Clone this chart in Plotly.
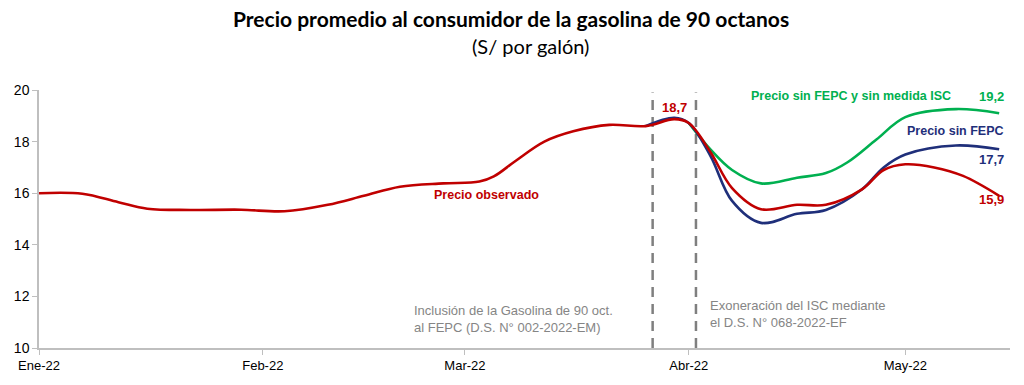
import plotly.graph_objects as go

# ---- data ----
obs_dates = ["2022-01-01", "2022-01-07", "2022-01-12", "2022-01-16", "2022-01-22", "2022-01-29",
             "2022-02-04", "2022-02-10", "2022-02-15", "2022-02-20", "2022-02-26", "2022-03-03",
             "2022-03-05", "2022-03-08", "2022-03-12", "2022-03-16", "2022-03-21", "2022-03-26",
             "2022-03-30", "2022-04-01", "2022-04-04", "2022-04-07", "2022-04-11", "2022-04-16",
             "2022-04-20", "2022-04-25", "2022-04-28", "2022-05-01", "2022-05-05", "2022-05-09",
             "2022-05-14"]
obs_values = [16.0, 15.98, 15.65, 15.4, 15.35, 15.36,
              15.30, 15.55, 15.9, 16.25, 16.38, 16.45,
              16.65, 17.25, 18.0, 18.4, 18.65, 18.6,
              18.87, 18.72, 17.6, 16.2, 15.38, 15.55,
              15.55, 16.15, 16.9, 17.12, 17.0, 16.67,
              15.9]

sinfepc_dates = ["2022-03-26", "2022-03-30", "2022-04-01", "2022-04-04", "2022-04-07", "2022-04-11",
                 "2022-04-16", "2022-04-20", "2022-04-25", "2022-04-28", "2022-05-01", "2022-05-08",
                 "2022-05-14"]
sinfepc_values = [18.6, 18.92, 18.72, 17.45, 15.7, 14.85,
                  15.2, 15.35, 16.15, 17.0, 17.5, 17.85,
                  17.7]

sinisc_dates = ["2022-04-01", "2022-04-04", "2022-04-07", "2022-04-11", "2022-04-16", "2022-04-20",
                "2022-04-23", "2022-04-27", "2022-05-01", "2022-05-08", "2022-05-14"]
sinisc_values = [18.72, 17.7, 16.9, 16.38, 16.6, 16.78,
                 17.2, 18.08, 18.95, 19.26, 19.1]

event_dates = ["2022-03-27", "2022-04-02"]
tick_dates = ["2022-01-01", "2022-02-01", "2022-03-01", "2022-04-01", "2022-05-01"]
tick_labels = ["Ene-22", "Feb-22", "Mar-22", "Abr-22", "May-22"]

RED = "#C00000"
GREEN = "#00B050"
NAVY = "#1F2F7A"
GRAY = "#858585"
SANS = "Liberation Sans, Arial, sans-serif"

fig = go.Figure()
fig.add_trace(go.Scatter(x=sinisc_dates, y=sinisc_values, mode="lines",
                         line=dict(color=GREEN, width=2.6, shape="spline", smoothing=1.0),
                         hoverinfo="skip"))
fig.add_trace(go.Scatter(x=sinfepc_dates, y=sinfepc_values, mode="lines",
                         line=dict(color=NAVY, width=2.6, shape="spline", smoothing=1.0),
                         hoverinfo="skip"))
fig.add_trace(go.Scatter(x=obs_dates, y=obs_values, mode="lines",
                         line=dict(color=RED, width=2.6, shape="spline", smoothing=1.0),
                         hoverinfo="skip"))

for d in event_dates:
    fig.add_shape(type="line", xref="x", yref="y", x0=d, x1=d, y0=10, y1=19.9,
                  line=dict(color="#7F7F7F", width=2.5, dash="10px,7px"), layer="below")


def ann(x, y, text, color, size=12.5, weight="bold", xanchor="center", align="center"):
    fig.add_annotation(x=x, y=y, xref="x", yref="y", text=text, showarrow=False,
                       xanchor=xanchor, yanchor="middle", align=align,
                       font=dict(family=SANS, size=size, color=color, weight=weight))


ann("2022-03-04", 15.92, "Precio observado", RED)
ann("2022-03-30", 19.31, "18,7", RED, size=13)
ann("2022-04-23 12:00", 19.77, "Precio sin FEPC y sin medida ISC", GREEN)
ann("2022-05-13", 19.73, "19,2", GREEN, size=13)
ann("2022-05-08", 18.42, "Precio sin FEPC", NAVY)
ann("2022-05-13", 17.31, "17,7", NAVY, size=13)
ann("2022-05-13", 15.77, "15,9", RED, size=13)
ann("2022-02-21 16:00", 11.12, "Inclusión de la Gasolina de 90 oct.<br>al FEPC (D.S. N° 002-2022-EM)",
    GRAY, size=13, weight="normal", xanchor="left", align="left")
ann("2022-04-03 16:00", 11.31, "Exoneración del ISC mediante<br>el D.S. N° 068-2022-EF",
    GRAY, size=13, weight="normal", xanchor="left", align="left")

# title and subtitle (paper coords: plot area spans px x 39..1010, y 90..350)
fig.add_annotation(x=(511 - 39) / 971, y=(350 - 18) / 260, xref="paper", yref="paper", showarrow=False,
                   text="<b>Precio promedio al consumidor de la gasolina de 90 octanos</b>",
                   font=dict(family="Lato, Open Sans, sans-serif", size=21, color="black"),
                   xanchor="center", yanchor="middle")
fig.add_annotation(x=(530 - 39) / 971, y=(350 - 46) / 260, xref="paper", yref="paper", showarrow=False,
                   text="(S/ por galón)",
                   font=dict(family="Lato, Open Sans, sans-serif", size=20, color="black"),
                   xanchor="center", yanchor="middle")

fig.update_layout(
    width=1024, height=385,
    margin=dict(l=39, r=14, t=90, b=35),
    paper_bgcolor="white", plot_bgcolor="white",
    showlegend=False,
)

fig.update_xaxes(type="date", range=["2022-01-01", "2022-05-15 12:00"],
                 tickvals=tick_dates, ticktext=tick_labels,
                 showgrid=False, showline=True, linecolor="#BFBFBF", linewidth=1.5,
                 ticks="outside", ticklen=5, tickcolor="#BFBFBF",
                 tickfont=dict(family=SANS, size=13, color="black"),
                 zeroline=False)
fig.update_yaxes(range=[10, 20], dtick=2, tick0=10,
                 showgrid=False, showline=True, linecolor="#BFBFBF", linewidth=1.5,
                 ticks="outside", ticklen=5, tickcolor="#BFBFBF",
                 tickfont=dict(family=SANS, size=14, color="black"),
                 zeroline=False)

fig.write_html("out.html", config={"displayModeBar": False},
               post_script="document.body.style.margin='0';document.body.style.overflow='hidden';")
